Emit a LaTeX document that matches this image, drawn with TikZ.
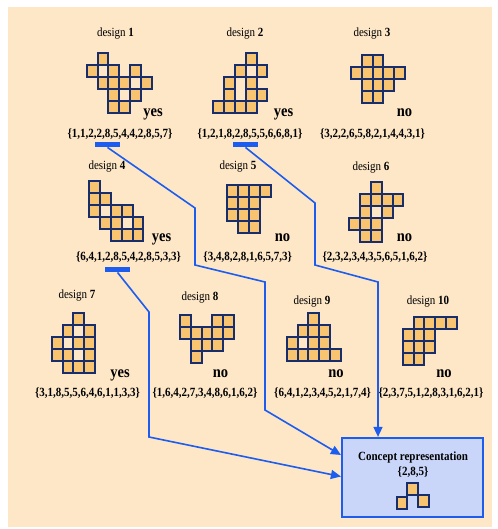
\documentclass[tikz,border=0pt]{standalone}
\usepackage{fontspec}
\setmainfont{Liberation Serif}[FakeStretch=0.88]
\usetikzlibrary{arrows.meta,calc}
\definecolor{peach}{RGB}{253,231,199}
\definecolor{celltan}{RGB}{248,196,112}
\definecolor{navy}{RGB}{24,46,108}
\definecolor{linkblue}{RGB}{28,92,238}
\definecolor{boxblue}{RGB}{201,214,250}
\tikzset{
  cellfill/.style={fill=celltan},
  cellline/.style={draw=navy,line width=2pt},
  dlabel/.style={anchor=base,inner sep=0pt,font=\fontsize{12.5}{14}\selectfont},
  seqtext/.style={anchor=base,inner sep=0pt,font=\fontsize{12.5}{14}\selectfont\bfseries},
  verdict/.style={anchor=base,inner sep=0pt,font=\fontsize{16.5}{18}\selectfont\bfseries},
  hilite/.style={fill=linkblue,minimum width=25pt,minimum height=5.5pt,inner sep=0pt},
  link/.style={draw=linkblue,line width=1.6pt,-{Triangle[length=10pt,width=9pt]}},
  concept/.style={draw=linkblue,fill=boxblue,line width=2.2pt,minimum width=141pt,minimum height=79pt,inner sep=0pt},
}
\begin{document}
\begin{tikzpicture}[x=1pt,y=-1pt,line join=miter]
  \useasboundingbox (0,0) rectangle (497,529);
  \fill[peach] (7.5,7) rectangle (492,527);

  \node[concept] (cr) at (412.5,477.5) {};

  \foreach \ox/\oy/\cells in {
    86.7/53.3/{1/0,0/1,2/1,4/1,1/2,2/2,3/2,5/2,2/3,4/3,2/4,3/4},
    213.3/53.3/{3/0,2/1,4/1,1/2,3/2,1/3,3/3,4/3,0/4,1/4,2/4,3/4},
    351/55/{1/0,2/0,0/1,1/1,2/1,3/1,4/1,1/2,2/2,3/2,1/3,2/3},
    89.3/180.7/{0/0,0/1,1/1,0/2,2/2,3/2,1/3,2/3,4/3,2/4,3/4,4/4},
    227.3/185/{0/0,1/0,2/0,3/0,0/1,1/1,2/1,0/2,1/2,2/2,1/3,2/3},
    349.3/182.3/{2/0,1/1,2/1,3/1,4/1,1/2,3/2,0/3,1/3,2/3,1/4,2/4},
    51.7/313.3/{2/0,1/1,3/1,0/2,2/2,3/2,0/3,1/3,3/3,1/4,2/4,3/4},
    180/315/{0/0,3/0,4/0,0/1,1/1,2/1,3/1,4/1,1/2,2/2,3/2,1/3},
    286.7/313.3/{2/0,1/1,2/1,3/1,0/2,2/2,3/2,0/3,1/3,2/3,3/3,4/3},
    402.7/316.7/{1/0,2/0,3/0,4/0,0/1,1/1,2/1,0/2,1/2,2/2,0/3,1/3},
    396.5/483/{1/0,0/1.15,2/1}}{
    \foreach \c/\r in \cells
      \fill[cellfill] (\ox+\c*10.8,\oy+\r*12) rectangle ++(10.8,12);
    \foreach \c/\r in \cells
      \draw[cellline] (\ox+\c*10.8,\oy+\r*12) rectangle ++(10.8,12);
  }

  \node[dlabel] (l1) at (115.5,36.7) {design \textbf{1}};
  \node[dlabel] (l2) at (245,36.7) {design \textbf{2}};
  \node[dlabel] (l3) at (372,36.7) {design \textbf{3}};
  \node[dlabel] (l4) at (107,170) {design \textbf{4}};
  \node[dlabel] (l5) at (238,170) {design \textbf{5}};
  \node[dlabel] (l6) at (371,171) {design \textbf{6}};
  \node[dlabel] (l7) at (77,298) {design \textbf{7}};
  \node[dlabel] (l8) at (200,300) {design \textbf{8}};
  \node[dlabel] (l9) at (312,304) {design \textbf{9}};
  \node[dlabel] (l10) at (428,304) {design \textbf{10}};

  \node[verdict] (v1) at (153,117) {yes};
  \node[verdict] (v2) at (283.5,117) {yes};
  \node[verdict] (v3) at (404.5,117) {no};
  \node[verdict] (v4) at (161.5,241.7) {yes};
  \node[verdict] (v5) at (282.5,241.7) {no};
  \node[verdict] (v6) at (404.5,241.7) {no};
  \node[verdict] (v7) at (120,377) {yes};
  \node[verdict] (v8) at (220.5,377) {no};
  \node[verdict] (v9) at (336,377) {no};
  \node[verdict] (v10) at (444,377) {no};

  \node[seqtext] (s1) at (120,137.3) {\{1,1,2,2,8,5,4,4,2,8,5,7\}};
  \node[seqtext] (s2) at (250,137.3) {\{1,2,1,8,2,8,5,5,6,6,8,1\}};
  \node[seqtext] (s3) at (372.5,137.3) {\{3,2,2,6,5,8,2,1,4,4,3,1\}};
  \node[seqtext] (s4) at (128.5,260) {\{6,4,1,2,8,5,4,2,8,5,3,3\}};
  \node[seqtext] (s5) at (247.7,260) {\{3,4,8,2,8,1,6,5,7,3\}};
  \node[seqtext] (s6) at (375,260) {\{2,3,2,3,4,3,5,6,5,1,6,2\}};
  \node[seqtext] (s7) at (87.5,396) {\{3,1,8,5,5,6,4,6,1,1,3,3\}};
  \node[seqtext] (s8) at (205,396) {\{1,6,4,2,7,3,4,8,6,1,6,2\}};
  \node[seqtext] (s9) at (322.5,396) {\{6,4,1,2,3,4,5,2,1,7,4\}};
  \node[seqtext] (s10) at (431,396) {\{2,3,7,5,1,2,8,3,1,6,2,1\}};

  \node[hilite] (b1) at (107.5,144.5) {};
  \node[hilite] (b2) at (245.5,144.5) {};
  \node[hilite] (b4) at (117.5,269.5) {};

  \node[seqtext] (crt) at (413,460.7) {Concept representation};
  \node[seqtext] (crs) at (413,475) {\{2,8,5\}};

  \draw[link] (b1.south) -- (195,208) -- (195,265) -- (265,282) -- (265,410) -- ([yshift=22.5pt]cr.west);
  \draw[link] (b2.south) -- (315,203) -- (315,265) -- (378,282) -- ([xshift=-34.5pt]cr.north);
  \draw[link] (b4.south) -- (149,312) -- (149,437) -- ([yshift=1pt]cr.west);
\end{tikzpicture}
\end{document}
